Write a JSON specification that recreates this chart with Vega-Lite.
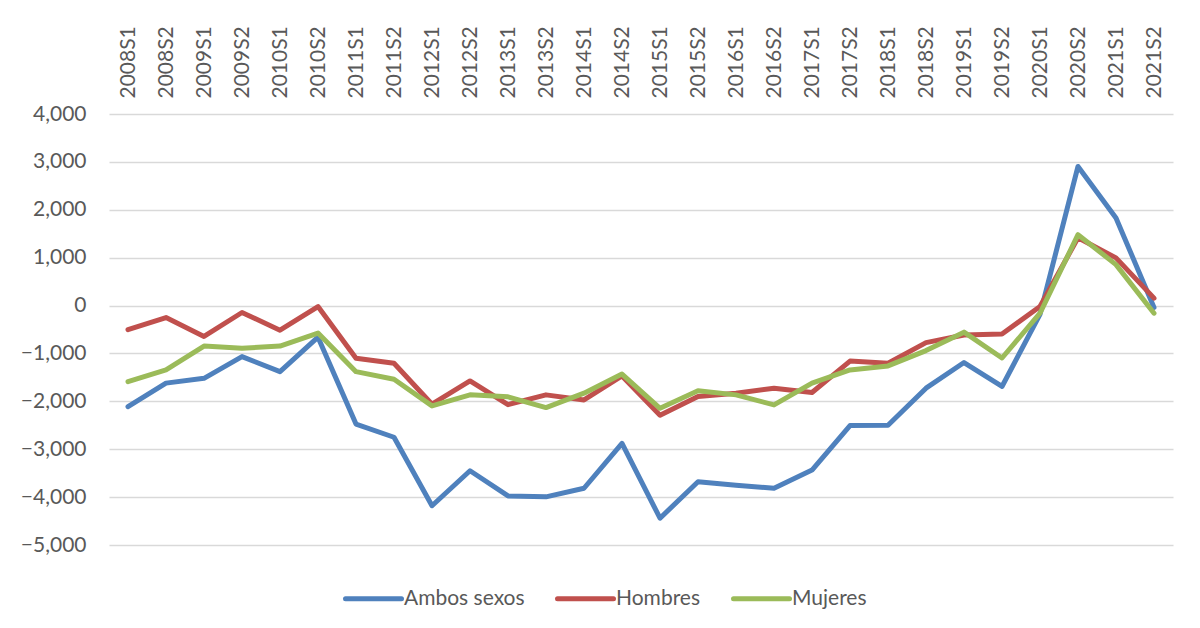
{
  "$schema": "https://vega.github.io/schema/vega-lite/v6.json",
  "width": 1064,
  "height": 431,
  "autosize": {"type": "none"},
  "padding": {"left": 109, "top": 114, "right": 27, "bottom": 83},
  "background": "white",
  "config": {"view": {"stroke": null}, "font": "Lato"},
  "datasets": {
    "d": [
      {"p":"2008S1","s":"Ambos sexos","v":-2110},{"p":"2008S2","s":"Ambos sexos","v":-1620},{"p":"2009S1","s":"Ambos sexos","v":-1520},{"p":"2009S2","s":"Ambos sexos","v":-1065},{"p":"2010S1","s":"Ambos sexos","v":-1380},{"p":"2010S2","s":"Ambos sexos","v":-660},{"p":"2011S1","s":"Ambos sexos","v":-2475},{"p":"2011S2","s":"Ambos sexos","v":-2750},{"p":"2012S1","s":"Ambos sexos","v":-4180},{"p":"2012S2","s":"Ambos sexos","v":-3450},{"p":"2013S1","s":"Ambos sexos","v":-3975},{"p":"2013S2","s":"Ambos sexos","v":-3995},{"p":"2014S1","s":"Ambos sexos","v":-3815},{"p":"2014S2","s":"Ambos sexos","v":-2880},{"p":"2015S1","s":"Ambos sexos","v":-4440},{"p":"2015S2","s":"Ambos sexos","v":-3680},{"p":"2016S1","s":"Ambos sexos","v":-3750},{"p":"2016S2","s":"Ambos sexos","v":-3815},{"p":"2017S1","s":"Ambos sexos","v":-3435},{"p":"2017S2","s":"Ambos sexos","v":-2505},{"p":"2018S1","s":"Ambos sexos","v":-2500},{"p":"2018S2","s":"Ambos sexos","v":-1725},{"p":"2019S1","s":"Ambos sexos","v":-1190},{"p":"2019S2","s":"Ambos sexos","v":-1690},{"p":"2020S1","s":"Ambos sexos","v":-185},{"p":"2020S2","s":"Ambos sexos","v":2905},{"p":"2021S1","s":"Ambos sexos","v":1830},{"p":"2021S2","s":"Ambos sexos","v":-40},
      {"p":"2008S1","s":"Hombres","v":-505},{"p":"2008S2","s":"Hombres","v":-250},{"p":"2009S1","s":"Hombres","v":-645},{"p":"2009S2","s":"Hombres","v":-145},{"p":"2010S1","s":"Hombres","v":-515},{"p":"2010S2","s":"Hombres","v":-20},{"p":"2011S1","s":"Hombres","v":-1100},{"p":"2011S2","s":"Hombres","v":-1205},{"p":"2012S1","s":"Hombres","v":-2060},{"p":"2012S2","s":"Hombres","v":-1575},{"p":"2013S1","s":"Hombres","v":-2070},{"p":"2013S2","s":"Hombres","v":-1865},{"p":"2014S1","s":"Hombres","v":-1970},{"p":"2014S2","s":"Hombres","v":-1470},{"p":"2015S1","s":"Hombres","v":-2290},{"p":"2015S2","s":"Hombres","v":-1900},{"p":"2016S1","s":"Hombres","v":-1830},{"p":"2016S2","s":"Hombres","v":-1725},{"p":"2017S1","s":"Hombres","v":-1815},{"p":"2017S2","s":"Hombres","v":-1160},{"p":"2018S1","s":"Hombres","v":-1205},{"p":"2018S2","s":"Hombres","v":-775},{"p":"2019S1","s":"Hombres","v":-615},{"p":"2019S2","s":"Hombres","v":-595},{"p":"2020S1","s":"Hombres","v":-20},{"p":"2020S2","s":"Hombres","v":1415},{"p":"2021S1","s":"Hombres","v":995},{"p":"2021S2","s":"Hombres","v":155},
      {"p":"2008S1","s":"Mujeres","v":-1590},{"p":"2008S2","s":"Mujeres","v":-1345},{"p":"2009S1","s":"Mujeres","v":-845},{"p":"2009S2","s":"Mujeres","v":-890},{"p":"2010S1","s":"Mujeres","v":-845},{"p":"2010S2","s":"Mujeres","v":-575},{"p":"2011S1","s":"Mujeres","v":-1380},{"p":"2011S2","s":"Mujeres","v":-1540},{"p":"2012S1","s":"Mujeres","v":-2095},{"p":"2012S2","s":"Mujeres","v":-1865},{"p":"2013S1","s":"Mujeres","v":-1905},{"p":"2013S2","s":"Mujeres","v":-2130},{"p":"2014S1","s":"Mujeres","v":-1830},{"p":"2014S2","s":"Mujeres","v":-1430},{"p":"2015S1","s":"Mujeres","v":-2145},{"p":"2015S2","s":"Mujeres","v":-1780},{"p":"2016S1","s":"Mujeres","v":-1865},{"p":"2016S2","s":"Mujeres","v":-2075},{"p":"2017S1","s":"Mujeres","v":-1620},{"p":"2017S2","s":"Mujeres","v":-1345},{"p":"2018S1","s":"Mujeres","v":-1260},{"p":"2018S2","s":"Mujeres","v":-940},{"p":"2019S1","s":"Mujeres","v":-555},{"p":"2019S2","s":"Mujeres","v":-1095},{"p":"2020S1","s":"Mujeres","v":-160},{"p":"2020S2","s":"Mujeres","v":1480},{"p":"2021S1","s":"Mujeres","v":855},{"p":"2021S2","s":"Mujeres","v":-160}
    ]
  },
  "data": {"name": "d"},
  "mark": {"type": "line", "strokeWidth": 5, "strokeCap": "round", "strokeJoin": "round"},
  "encoding": {
    "x": {
      "field": "p", "type": "ordinal", "sort": null,
      "scale": {"type": "point", "padding": 0.5},
      "axis": {"orient": "top", "title": null, "labelAngle": -90, "labelFontSize": 21, "labelColor": "#595959", "labelFont": "Lato", "labelPadding": 16, "ticks": false, "domain": false, "grid": false}
    },
    "y": {
      "field": "v", "type": "quantitative",
      "scale": {"domain": [-5000, 4000], "nice": false, "zero": false},
      "axis": {"title": null, "values": [-5000,-4000,-3000,-2000,-1000,0,1000,2000,3000,4000], "format": ",d", "labelFontSize": 21, "labelColor": "#595959", "labelFont": "Lato", "labelPadding": 23, "ticks": false, "domain": false, "gridColor": "#d9d9d9", "gridWidth": 1.5}
    },
    "color": {
      "field": "s", "type": "nominal",
      "scale": {"domain": ["Ambos sexos", "Hombres", "Mujeres"], "range": ["#4F81BD", "#C0504D", "#9BBB59"]},
      "legend": {
        "title": null, "orient": "none", "legendX": 234, "legendY": 454, "direction": "horizontal", "columns": 3,
        "padding": 0, "symbolType": "stroke", "symbolSize": 3136, "symbolStrokeWidth": 5,
        "labelFontSize": 21, "labelColor": "#595959", "labelFont": "Lato", "labelOffset": 0, "columnPadding": 22,
        "encode": {"symbols": {"update": {"strokeCap": {"value": "round"}}}}
      }
    }
  }
}
